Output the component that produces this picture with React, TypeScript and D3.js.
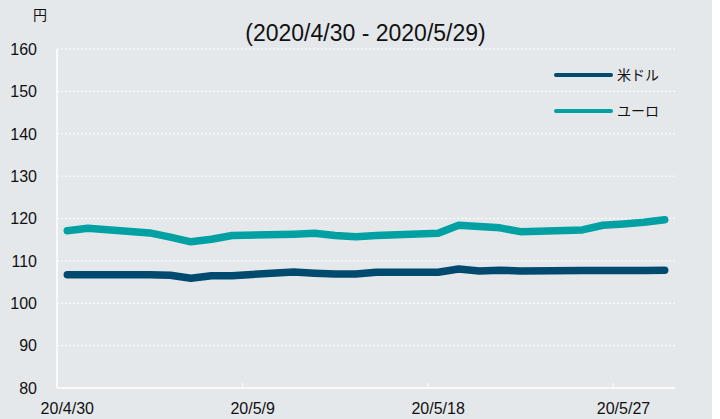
import * as d3 from "d3";

const dates = [
  "2020-04-30", "2020-05-01",
  "2020-05-04", "2020-05-05", "2020-05-06", "2020-05-07", "2020-05-08",
  "2020-05-11", "2020-05-12", "2020-05-13", "2020-05-14", "2020-05-15",
  "2020-05-18", "2020-05-19", "2020-05-20", "2020-05-21", "2020-05-22",
  "2020-05-25", "2020-05-26", "2020-05-27", "2020-05-28", "2020-05-29",
];
const usd = [
  106.7, 106.7,
  106.7, 106.6, 105.9, 106.5, 106.5,
  107.4, 107.1, 106.9, 106.9, 107.3,
  107.3, 108.1, 107.6, 107.8, 107.6,
  107.7, 107.7, 107.7, 107.7, 107.8,
];
const eur = [
  117.1, 117.7,
  116.6, 115.6, 114.5, 115.1, 116.0,
  116.3, 116.5, 116.0, 115.7, 116.0,
  116.5, 118.4, 118.1, 117.8, 116.9,
  117.3, 118.4, 118.7, 119.1, 119.7,
];
const yTicks = [80, 90, 100, 110, 120, 130, 140, 150, 160];
const xTickDates = ["2020-04-30", "2020-05-09", "2020-05-18", "2020-05-27"];
const xTickLabels = ["20/4/30", "20/5/9", "20/5/18", "20/5/27"];
const seriesNames = ["米ドル", "ユーロ"];
const seriesColors = ["#004a6f", "#00a0a3"];

const parse = (s: string) => {
  const [y, m, d] = s.split("-").map(Number);
  return new Date(y, m - 1, d);
};
const HALF_DAY = 12 * 3600 * 1000;

export default function App() {
  const width = 720;
  const height = 419;
  const left = 57, right = 675, top = 49, bottom = 388;

  const x = d3.scaleTime()
    .domain([parse("2020-04-30"), parse("2020-05-30")])
    .range([left, right]);
  const y = d3.scaleLinear().domain([80, 160]).range([bottom, top]);

  const line = d3.line<number>()
    .x((_, i) => x(new Date(parse(dates[i]).getTime() + HALF_DAY)))
    .y((v) => y(v));

  const series = [usd, eur];
  const font = "'Liberation Sans', Arial, 'Noto Sans CJK JP', sans-serif";

  return (
    <svg width={width} height={height}
      style={{ position: "absolute", left: 0, top: 0, fontFamily: font }}>
      <rect x={0} y={0} width={712} height={height} fill="#e5e8eb" />
      {yTicks.map((t) => (
        <g key={t}>
          {t > 80 && (
            <line x1={left} x2={right} y1={y(t)} y2={y(t)}
              stroke="#ffffff" strokeWidth={1} strokeDasharray="2,2" />
          )}
          <text x={37} y={y(t)} dy="0.36em" textAnchor="end" fontSize={16} fill="#111">{t}</text>
        </g>
      ))}
      <line x1={left} x2={left} y1={top} y2={bottom} stroke="#fff" strokeWidth={1.5} />
      <line x1={left} x2={right} y1={bottom} y2={bottom} stroke="#fff" strokeWidth={1.5} />
      {xTickDates.map((d, i) => {
        const dt = parse(d);
        const tx = x(dt);
        const lx = x(new Date(dt.getTime() + HALF_DAY));
        return (
          <g key={d}>
            <line x1={tx} x2={tx} y1={bottom} y2={bottom - 5} stroke="#fff" strokeWidth={1} />
            <text x={lx} y={414} textAnchor="middle" fontSize={16} fill="#111">{xTickLabels[i]}</text>
          </g>
        );
      })}
      {series.map((s, i) => (
        <path key={i} d={line(s) ?? ""} fill="none" stroke={seriesColors[i]}
          strokeWidth={7.5} strokeLinecap="round" strokeLinejoin="round" />
      ))}
      <text x={40} y={20} textAnchor="middle" fontSize={14} fill="#111">円</text>
      <text x={365.5} y={41} textAnchor="middle" fontSize={23} fill="#111">(2020/4/30 - 2020/5/29)</text>
      {seriesNames.map((n, i) => (
        <g key={n} transform={`translate(0, ${75 + i * 36})`}>
          <line x1={556} x2={611} y1={0} y2={0} stroke={seriesColors[i]} strokeWidth={4} strokeLinecap="round" />
          <text x={617} y={0} dy="0.36em" fontSize={14} fill="#111">{n}</text>
        </g>
      ))}
    </svg>
  );
}
